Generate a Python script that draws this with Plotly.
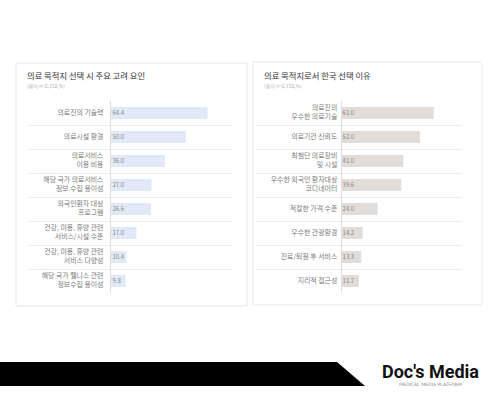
import plotly.graph_objects as go

# ---------------- data ----------------
left_title = "의료 목적지 선택 시 주요 고려 요인"
left_note = "(환자 n=2,152,%)"
left_categories = [
    "의료진의 기술력",
    "의료시설 환경",
    "의료서비스<br>이용 비용",
    "해당 국가 의료서비스<br>정보 수집 용이성",
    "외국인환자 대상<br>프로그램",
    "건강, 미용, 휴양 관련<br>서비스/시설 수준",
    "건강, 미용, 휴양 관련<br>서비스 다양성",
    "해당 국가 웰니스 관련<br>정보수집 용이성",
]
left_values = [64.4, 50.0, 36.0, 27.0, 26.6, 17.0, 10.4, 9.8]

right_title = "의료 목적지로서 한국 선택 이유"
right_note = "(환자 n=2,152,%)"
right_categories = [
    "의료진의<br>우수한 의료기술",
    "의료기관 신뢰도",
    "최첨단 의료장비<br>및 시설",
    "우수한 외국인 환자대상<br>코디네이터",
    "적절한 가격 수준",
    "우수한 관광환경",
    "진료/퇴원 후 서비스",
    "지리적 접근성",
]
right_values = [61.0, 52.0, 41.0, 39.6, 24.0, 14.2, 13.3, 11.7]

brand = "Doc's Media"
brand_sub = "MEDICAL MEDIA PLATFORM"

# ---------------- styling ----------------
W, H = 500, 400
KR = "Noto Sans CJK KR, Noto Sans, sans-serif"
LABEL_COLOR = "#7a7a7a"
VALUE_COLOR = "#8a8a8a"


def px(x):
    return x / W


def py(y):
    return 1 - y / H


fig = go.Figure()


def add_panel(cats, vals, color, xa, ya, label_x, value_x):
    idx = list(range(len(cats)))
    fig.add_trace(go.Bar(
        x=vals, y=idx, orientation="h", width=0.5,
        marker=dict(color=color, line=dict(width=0)),
        xaxis=xa, yaxis=ya, hoverinfo="skip", showlegend=False,
    ))
    fig.add_trace(go.Scatter(
        x=[value_x] * len(vals), y=idx, mode="text",
        text=[f"{v:.1f}" for v in vals], textposition="middle right",
        textfont=dict(size=6, color=VALUE_COLOR, family=KR),
        xaxis=xa, yaxis=ya, hoverinfo="skip", showlegend=False,
    ))
    fig.add_trace(go.Scatter(
        x=[label_x] * len(cats), y=idx, mode="text",
        text=cats, textposition="middle left",
        textfont=dict(size=6.9, color=LABEL_COLOR, family=KR),
        xaxis=xa, yaxis=ya, hoverinfo="skip", showlegend=False,
    ))


add_panel(left_categories, left_values, "#e2e9f6", "x", "y", -5, 1)
add_panel(right_categories, right_values, "#e2dcd8", "x2", "y2", -2.5, 1)

n = len(left_categories)
bounds = [i + 0.5 for i in range(n - 1)]

ydom = [py(293), py(101)]
common_x = dict(showgrid=False, showticklabels=False, ticks="", zeroline=True,
                zerolinewidth=1, showline=False, fixedrange=True)
common_y = dict(range=[n - 0.5, -0.5], tickmode="array", tickvals=bounds,
                showticklabels=False, ticks="", showgrid=True, gridwidth=1,
                zeroline=False, showline=False, domain=ydom, fixedrange=True)

fig.update_layout(
    width=W, height=H,
    margin=dict(l=0, r=0, t=0, b=0),
    paper_bgcolor="white", plot_bgcolor="rgba(0,0,0,0)",
    bargap=0.5,
    xaxis=dict(domain=[px(28), px(232)], range=[-55.3, 80.7],
               zerolinecolor="#dcdcdc", **common_x),
    yaxis=dict(anchor="x", gridcolor="#ececec", **common_y),
    xaxis2=dict(domain=[px(257), px(462)], range=[-55.3, 79.6],
                zerolinecolor="#e2dcd6", anchor="y2", **common_x),
    yaxis2=dict(anchor="x2", gridcolor="#efebe6", **common_y),
)

shapes = [
    # panel boxes
    dict(type="rect", xref="paper", yref="paper", x0=px(16), x1=px(247),
         y0=py(306), y1=py(63), line=dict(color="#e6e6e6", width=1),
         fillcolor="rgba(0,0,0,0)", layer="below"),
    dict(type="rect", xref="paper", yref="paper", x0=px(253), x1=px(482),
         y0=py(305), y1=py(62), line=dict(color="#ede6de", width=1),
         fillcolor="rgba(0,0,0,0)", layer="below"),
    # footer band
    dict(type="path", xref="paper", yref="paper",
         path=f"M 0 {py(362)} L {px(337)} {py(362)} L {px(365)} {py(386)} L 0 {py(386)} Z",
         fillcolor="black", line=dict(width=0)),
]
fig.update_layout(shapes=shapes)

annotations = [
    dict(text=left_title, x=px(25), y=py(75), xref="paper", yref="paper",
         xanchor="left", yanchor="middle", showarrow=False,
         font=dict(size=8.3, color="#333333", family=KR)),
    dict(text=left_note, x=px(25), y=py(86), xref="paper", yref="paper",
         xanchor="left", yanchor="middle", showarrow=False,
         font=dict(size=5, color="#b0b0b0", family=KR)),
    dict(text=right_title, x=px(262), y=py(75), xref="paper", yref="paper",
         xanchor="left", yanchor="middle", showarrow=False,
         font=dict(size=8.3, color="#333333", family=KR)),
    dict(text=right_note, x=px(262), y=py(86), xref="paper", yref="paper",
         xanchor="left", yanchor="middle", showarrow=False,
         font=dict(size=5, color="#b0b0b0", family=KR)),
    dict(text=f"<b>{brand}</b>", x=px(430), y=py(371), xref="paper", yref="paper",
         xanchor="center", yanchor="middle", showarrow=False,
         font=dict(size=18, color="#111111",
                   family="Liberation Sans Narrow, Roboto, sans-serif")),
    dict(text=brand_sub, x=px(430), y=py(384.5), xref="paper", yref="paper",
         xanchor="center", yanchor="middle", showarrow=False,
         font=dict(size=4.6, color="#888888", family="DejaVu Sans, sans-serif")),
]
fig.update_layout(annotations=annotations)

fig.write_html("out.html", config=dict(displayModeBar=False),
               post_script="document.body.style.margin='0';document.body.style.padding='0';")
